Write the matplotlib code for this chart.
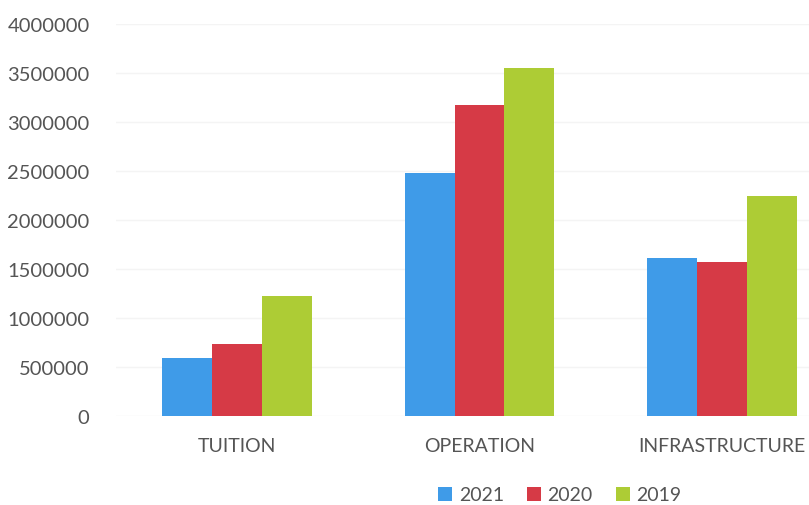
"""
Grouped bar chart: cost by category and year
"""
import numpy as np
import matplotlib.pyplot as plt

CATEGORIES = ["TUITION", "OPERATION", "INFRASTRUCTURE"]
YEARS = ["2021", "2020", "2019"]
VALUES_2021 = [590000, 2480000, 1615000]
VALUES_2020 = [730000, 3175000, 1570000]
VALUES_2019 = [1220000, 3550000, 2240000]
Y_TICKS = [0, 500000, 1000000, 1500000, 2000000, 2500000, 3000000, 3500000, 4000000]

COLORS = ["#3f9be8", "#d63a46", "#adcc35"]
TEXT_COLOR = "#555555"

plt.rcParams['font.family'] = ['Lato', 'DejaVu Sans']

fig = plt.figure(figsize=(8.09, 5.06), dpi=100)
ax = fig.add_axes([116 / 809, 89 / 506, 727 / 809, 392 / 506])

x = np.arange(len(CATEGORIES))
width = 0.206
series = [VALUES_2021, VALUES_2020, VALUES_2019]

for i, (vals, year, color) in enumerate(zip(series, YEARS, COLORS)):
    ax.bar(x + (i - 1) * width, vals, width, color=color, label=year, zorder=2)

ax.set_xlim(-0.5, len(CATEGORIES) - 0.5)
ax.set_ylim(0, 4000000)
ax.set_yticks(Y_TICKS)
ax.set_yticklabels([str(t) for t in Y_TICKS])
ax.set_xticks(x)
ax.set_xticklabels(CATEGORIES)

ax.tick_params(axis='y', length=0, labelsize=14.5, labelcolor=TEXT_COLOR, pad=19)
ax.tick_params(axis='x', length=0, labelsize=14, labelcolor=TEXT_COLOR, pad=15)
ax.grid(axis='y', color="#f4f4f4", linewidth=1, zorder=0)

for spine in ax.spines.values():
    spine.set_visible(False)

fig.legend(loc='center', bbox_to_anchor=(560 / 809, 1 - 496 / 506), ncol=3,
           frameon=False, fontsize=14, handlelength=0.7, handleheight=0.7,
           handletextpad=0.35, columnspacing=1.2, labelcolor=TEXT_COLOR)

fig.savefig("out.png", dpi=100)
